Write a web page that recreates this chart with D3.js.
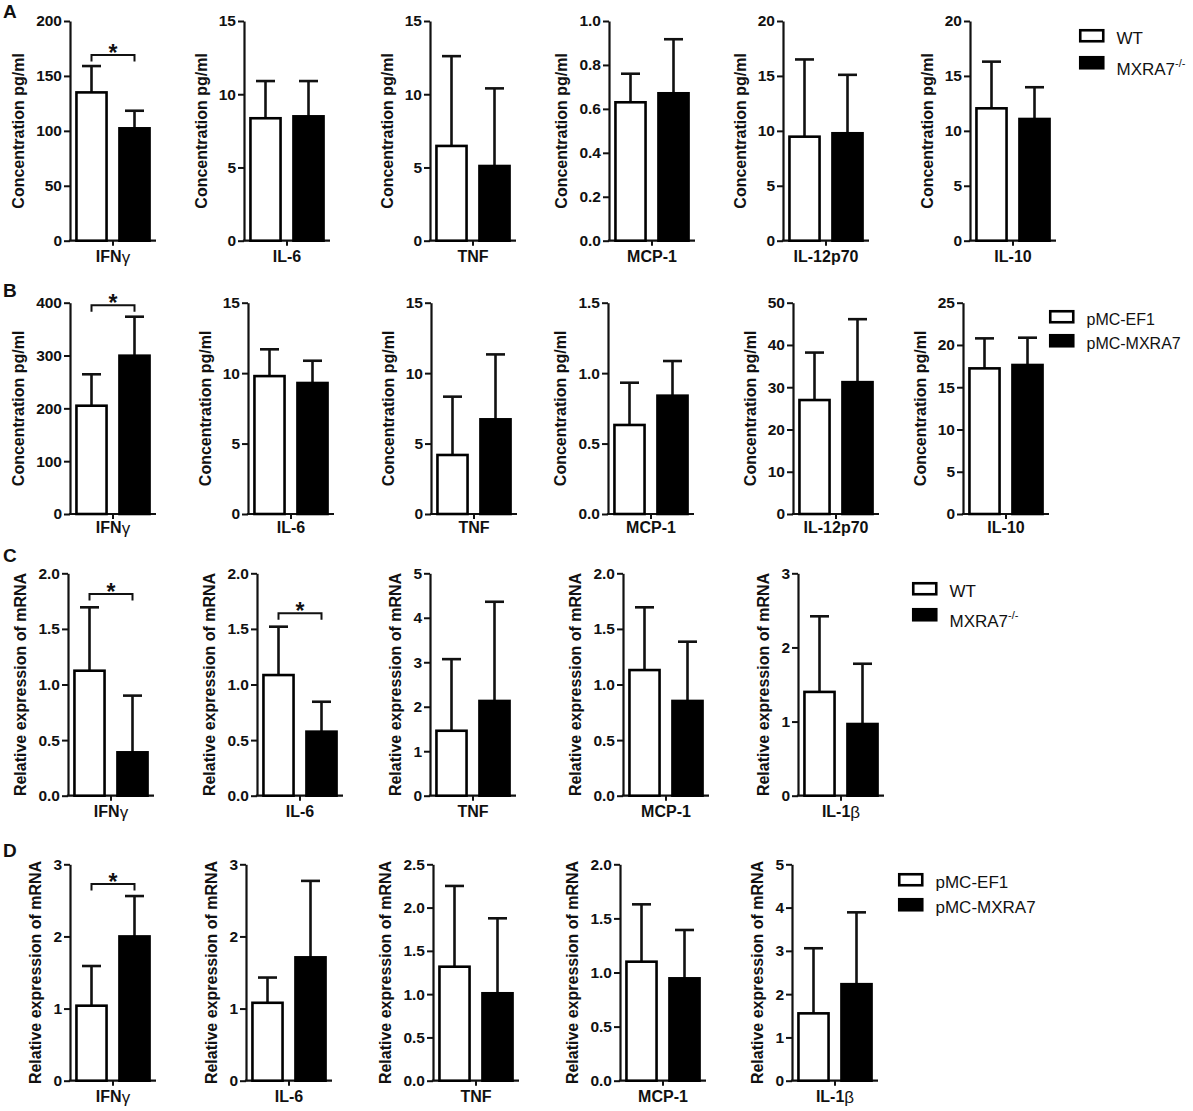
<!DOCTYPE html>
<html>
<head>
<meta charset="utf-8">
<script src="https://cdn.jsdelivr.net/npm/d3@7"></script>
<style>
body{margin:0;background:#fff}
svg{display:block;font-family:"Liberation Sans",Arial,sans-serif}
</style>
</head>
<body>
<svg id="fig" width="1193" height="1111"></svg>
<script>
// categories
var catsCyto = ["IFNγ", "IL-6", "TNF", "MCP-1", "IL-12p70", "IL-10"];
var catsMrna = ["IFNγ", "IL-6", "TNF", "MCP-1", "IL-1β"];

// A: serum cytokines, WT vs MXRA7-/-
var aWtMean = [135, 8.36, 6.47, 0.63, 9.47, 12.05];
var aWtSd   = [24, 2.54, 6.13, 0.13, 7.03, 4.25];
var aKoMean = [102.3, 8.49, 5.1, 0.671, 9.78, 11.08];
var aKoSd   = [16, 2.41, 5.3, 0.246, 5.32, 2.89];
var aMax  = [200, 15, 15, 1.0, 20, 20];
var aStep = [50, 5, 5, 0.2, 5, 5];

// B: cytokines, pMC-EF1 vs pMC-MXRA7
var bEfMean = [205, 9.79, 4.19, 0.632, 26.97, 17.23];
var bEfSd   = [59.5, 1.9, 4.14, 0.30, 11.23, 3.55];
var bMxMean = [299.7, 9.3, 6.72, 0.84, 31.2, 17.63];
var bMxSd   = [73.8, 1.58, 4.61, 0.246, 14.9, 3.23];
var bMax  = [400, 15, 15, 1.5, 50, 25];
var bStep = [100, 5, 5, 0.5, 10, 5];

// C: mRNA, WT vs MXRA7-/-
var cWtMean = [1.124, 1.085, 1.46, 1.13, 1.40];
var cWtSd   = [0.57, 0.435, 1.61, 0.564, 1.02];
var cKoMean = [0.39, 0.576, 2.13, 0.852, 0.967];
var cKoSd   = [0.51, 0.269, 2.23, 0.533, 0.813];
var cMax  = [2.0, 2.0, 5, 2.0, 3];
var cStep = [0.5, 0.5, 1, 0.5, 1];

// D: mRNA, pMC-EF1 vs pMC-MXRA7
var dEfMean = [1.04, 1.08, 1.317, 1.10, 1.556];
var dEfSd   = [0.55, 0.35, 0.933, 0.53, 1.504];
var dMxMean = [2.0, 1.71, 1.01, 0.946, 2.23];
var dMxSd   = [0.56, 1.06, 0.866, 0.447, 1.66];
var dMax  = [3, 3, 2.5, 2.0, 5];
var dStep = [1, 1, 0.5, 0.5, 1];

// significance brackets: [category index, bracket height in data units]
var aSig = [[0, 169]];
var bSig = [[0, 395]];
var cSig = [[0, 1.814], [1, 1.64]];
var dSig = [[0, 2.727]];

var groupsKo = ["WT", "MXRA7"];
var groupsOe = ["pMC-EF1", "pMC-MXRA7"];

var svg = d3.select("#fig");
var ink = "#111";

var rows = [
    {letter: "A", cats: catsCyto, m: [aWtMean, aKoMean], sd: [aWtSd, aKoSd], max: aMax, step: aStep, sig: aSig,
     title: "Concentration pg/ml", ax: [70, 244, 430, 609, 783, 970], top: 21, bottom: 240.7, catDy: 21, letterY: 18,
     legend: {x: 1079, y: 29, gap: 27, font: 17, names: groupsKo, sup: true}},
    {letter: "B", cats: catsCyto, m: [bEfMean, bMxMean], sd: [bEfSd, bMxSd], max: bMax, step: bStep, sig: bSig,
     title: "Concentration pg/ml", ax: [70, 248, 431, 608, 793, 963], top: 302.7, bottom: 514, catDy: 18.5, letterY: 297,
     legend: {x: 1049, y: 310, gap: 24, font: 16, names: groupsOe, sup: false}},
    {letter: "C", cats: catsMrna, m: [cWtMean, cKoMean], sd: [cWtSd, cKoSd], max: cMax, step: cStep, sig: cSig,
     title: "Relative expression of mRNA", ax: [68, 257, 430, 623, 798], top: 573.3, bottom: 795.7, catDy: 21, letterY: 562,
     legend: {x: 912, y: 582, gap: 26, font: 17, names: groupsKo, sup: true}},
    {letter: "D", cats: catsMrna, m: [dEfMean, dMxMean], sd: [dEfSd, dMxSd], max: dMax, step: dStep, sig: dSig,
     title: "Relative expression of mRNA", ax: [70, 246, 433, 620, 792], top: 864.3, bottom: 1080.7, catDy: 21, letterY: 857,
     legend: {x: 898, y: 873, gap: 25, font: 17, names: groupsOe, sup: false}}
];

var axisLen = 86;

function catLabel(sel, name) {
    var last = name.slice(-1);
    if (last === "γ" || last === "β") {
        sel.append("tspan").text(name.slice(0, -1));
        sel.append("tspan").attr("font-weight", "normal").attr("font-size", 17).attr("dy", 1).text(last);
    } else {
        sel.text(name);
    }
}

function drawPanel(row, i) {
    var x0 = row.ax[i];
    var g = svg.append("g").attr("transform", "translate(" + x0 + ",0)");
    var y = d3.scaleLinear().domain([0, row.max[i]]).range([row.bottom, row.top]);
    var x = d3.scaleBand().domain([0, 1]).range([0, axisLen]).paddingInner(0.3).paddingOuter(0.15);
    var fmt = row.step[i] < 1 ? d3.format(".1f") : d3.format("d");
    var ticks = d3.range(0, row.max[i] + row.step[i] / 2, row.step[i]);

    var yAxis = g.append("g")
        .call(d3.axisLeft(y).tickValues(ticks).tickFormat(fmt).tickSize(6).tickSizeOuter(0).tickPadding(2));
    yAxis.select(".domain").attr("stroke", ink).attr("stroke-width", 2.2);
    yAxis.selectAll(".tick line").attr("stroke", ink).attr("stroke-width", 2);
    yAxis.selectAll(".tick text").attr("fill", ink).attr("font-size", 15.5).attr("font-weight", "bold")
        .attr("font-family", "Liberation Sans, Arial, sans-serif");

    // x axis with middle tick
    g.append("line").attr("x1", -1.1).attr("x2", axisLen).attr("y1", y(0)).attr("y2", y(0))
        .attr("stroke", ink).attr("stroke-width", 2.2);
    g.append("line").attr("x1", axisLen / 2).attr("x2", axisLen / 2).attr("y1", y(0)).attr("y2", y(0) + 5)
        .attr("stroke", ink).attr("stroke-width", 2);

    // bars + upper error bars
    [0, 1].forEach(function (k) {
        var mean = row.m[k][i], sd = row.sd[k][i];
        var bx = x(k), bw = x.bandwidth(), cx = bx + bw / 2;
        g.append("line").attr("x1", cx).attr("x2", cx).attr("y1", y(mean)).attr("y2", y(mean + sd))
            .attr("stroke", ink).attr("stroke-width", 2.6);
        g.append("line").attr("x1", cx - 9.5).attr("x2", cx + 9.5).attr("y1", y(mean + sd)).attr("y2", y(mean + sd))
            .attr("stroke", ink).attr("stroke-width", 2.6);
        g.append("rect").attr("x", bx).attr("width", bw)
            .attr("y", y(mean)).attr("height", y(0) - y(mean))
            .attr("fill", k === 0 ? "#fff" : "#000").attr("stroke", "#000").attr("stroke-width", 2.6);
    });

    // significance
    row.sig.forEach(function (s) {
        if (s[0] !== i) return;
        var x1 = x(0) + x.bandwidth() / 2, x2 = x(1) + x.bandwidth() / 2, yb = y(s[1]);
        g.append("path").attr("d", "M" + x1 + "," + (yb + 6.5) + "V" + yb + "H" + x2 + "V" + (yb + 6.5))
            .attr("fill", "none").attr("stroke", ink).attr("stroke-width", 2);
        g.append("text").attr("x", (x1 + x2) / 2).attr("y", yb + 6).attr("text-anchor", "middle")
            .attr("font-size", 23).attr("font-weight", "bold").attr("fill", ink).text("*");
    });

    // category label
    var cl = g.append("text").attr("x", axisLen / 2).attr("y", row.bottom + row.catDy)
        .attr("text-anchor", "middle").attr("font-size", 16).attr("font-weight", "bold").attr("fill", ink);
    catLabel(cl, row.cats[i]);

    // y title left of tick labels
    var tw = d3.max(yAxis.selectAll(".tick text").nodes(), function (n) { return n.getComputedTextLength(); });
    var tx = -6 - 2 - tw - 12;
    var ty = (row.top + row.bottom) / 2;
    g.append("text").attr("transform", "translate(" + tx + "," + ty + ") rotate(-90)")
        .attr("text-anchor", "middle").attr("font-size", 16).attr("font-weight", "bold").attr("fill", ink)
        .text(row.title);
}

function drawLegend(lg) {
    var bh = 13.5, bw = 25.5;
    lg.names.forEach(function (name, k) {
        var yy = lg.y + k * lg.gap;
        svg.append("rect").attr("x", lg.x + 1.25).attr("y", yy + 1.25).attr("width", bw - 2.5).attr("height", bh - 2.5)
            .attr("fill", k === 0 ? "#fff" : "#000").attr("stroke", "#000").attr("stroke-width", 2.6);
        var t = svg.append("text").attr("x", lg.x + bw + 12).attr("y", yy + bh + (lg.sup && k === 1 ? 5 : 1.5))
            .attr("font-size", lg.font).attr("fill", ink);
        t.append("tspan").text(name);
        if (lg.sup && k === 1) {
            t.append("tspan").attr("font-size", 11).attr("dy", -8).text("-/-");
        }
    });
}

rows.forEach(function (row) {
    svg.append("text").attr("x", 3).attr("y", row.letterY).attr("font-size", 19).attr("font-weight", "bold")
        .attr("fill", ink).text(row.letter);
    row.cats.forEach(function (c, i) { drawPanel(row, i); });
    drawLegend(row.legend);
});
</script>
</body>
</html>
